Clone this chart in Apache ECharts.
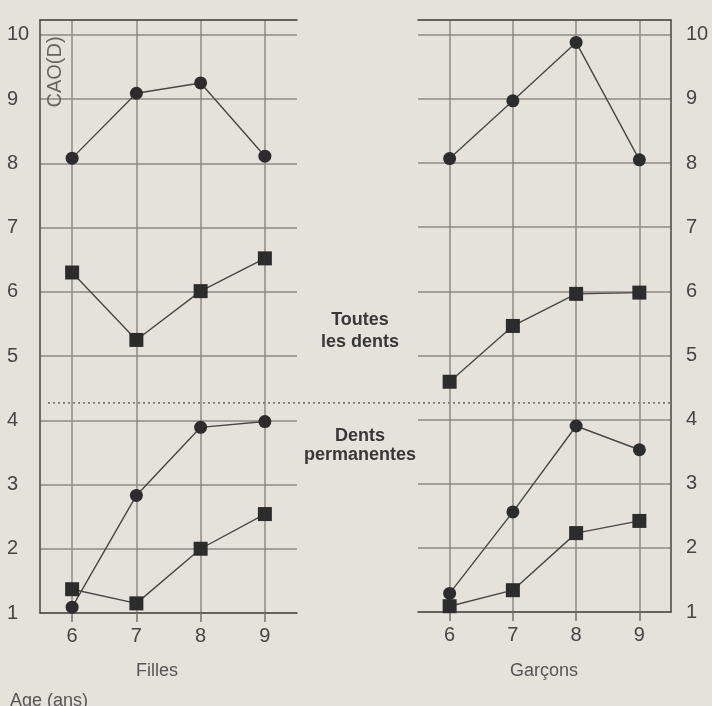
<!DOCTYPE html>
<html>
<head>
<meta charset="utf-8">
<script src="https://cdn.jsdelivr.net/npm/echarts@6/dist/echarts.min.js"></script>
<style>
html,body{margin:0;padding:0;background:#e4e2da;}
#c{width:712px;height:706px;}
</style>
</head>
<body>
<div id="c"></div>
<script>
// ---- data ----
const ages = ['6', '7', '8', '9'];
// Filles
const fillesToutesCAO = [8.08, 9.09, 9.25, 8.11];    // circles, all teeth
const fillesToutesSq = [6.30, 5.25, 6.01, 6.52];     // squares, all teeth
const fillesPermCAO = [1.09, 2.83, 3.89, 3.98];      // circles, permanent teeth
const fillesPermSq = [1.37, 1.15, 2.00, 2.54];       // squares, permanent teeth
// Garçons
const garconsToutesCAO = [8.07, 8.97, 9.88, 8.05];
const garconsToutesSq = [4.59, 5.46, 5.96, 5.98];
const garconsPermCAO = [1.29, 2.56, 3.90, 3.53];
const garconsPermSq = [1.09, 1.34, 2.23, 2.42];
const separatorValue = 4.27;

const ink = '#2c2c2c';
const lineCol = '#474747';
const gridCol = '#8c8a83';
const axisCol = '#504e4a';
const textCol = '#454545';
const font = 'Liberation Sans, Arial, sans-serif';

function xAxisBottom(gi) {
  return {
    type: 'category', gridIndex: gi, data: ages, boundaryGap: true,
    axisLine: { show: true, lineStyle: { color: axisCol, width: 1.6 } },
    axisTick: { show: true, alignWithLabel: true, length: 9, lineStyle: { color: '#74726d', width: 1.5 } },
    axisLabel: { fontSize: 20, color: textCol, margin: 13, fontFamily: font },
    splitLine: { show: true, alignWithLabel: true, lineStyle: { color: gridCol, width: 1.5 } }
  };
}
function xAxisTop(gi) {
  return {
    type: 'category', gridIndex: gi, data: ages, position: 'top', boundaryGap: true,
    axisLine: { show: true, lineStyle: { color: axisCol, width: 1.6 } },
    axisTick: { show: false }, axisLabel: { show: false }, splitLine: { show: false }
  };
}
function yAxis(gi, pos, margin, align) {
  return {
    type: 'value', gridIndex: gi, position: pos, min: 1, max: 10.23, interval: 1,
    axisLine: { show: true, onZero: false, lineStyle: { color: axisCol, width: 1.6 } },
    axisTick: { show: false },
    axisLabel: {
      fontSize: 20, color: textCol, margin: margin, align: align, fontFamily: font,
      formatter: v => (Math.abs(v - Math.round(v)) < 1e-9 ? String(Math.round(v)) : '')
    },
    splitLine: { show: true, lineStyle: { color: gridCol, width: 1.5 } }
  };
}
function ser(gi, data, sym) {
  return {
    type: 'line', xAxisIndex: gi * 2, yAxisIndex: gi, data: data,
    symbol: sym, symbolSize: sym === 'rect' ? 14 : 13,
    itemStyle: { color: ink }, lineStyle: { color: lineCol, width: 1.4 },
    showAllSymbol: true, animation: false, z: 5
  };
}

const chart = echarts.init(document.getElementById('c'));
chart.setOption({
  backgroundColor: '#e4e2da',
  animation: false,
  grid: [
    { left: 40, right: 415, top: 20, bottom: 93 },
    { left: 418, right: 41, top: 20, bottom: 94 }
  ],
  xAxis: [xAxisBottom(0), xAxisTop(0), xAxisBottom(1), xAxisTop(1)],
  yAxis: [yAxis(0, 'left', 33, 'left'), yAxis(1, 'right', 15, 'left')],
  series: [
    ser(0, fillesToutesCAO, 'circle'),
    ser(0, fillesToutesSq, 'rect'),
    ser(0, fillesPermCAO, 'circle'),
    ser(0, fillesPermSq, 'rect'),
    ser(1, garconsToutesCAO, 'circle'),
    ser(1, garconsToutesSq, 'rect'),
    ser(1, garconsPermCAO, 'circle'),
    ser(1, garconsPermSq, 'rect')
  ]
});

const sepY = chart.convertToPixel({ yAxisIndex: 0 }, separatorValue);
const txt = (x, y, s, opts) => Object.assign({
  type: 'text', x: x, y: y,
  style: Object.assign({ text: s, fill: '#555', font: '18px ' + font, align: 'center', verticalAlign: 'middle' }, opts || {})
});
chart.setOption({
  graphic: [
    { type: 'line', shape: { x1: 48, y1: sepY, x2: 670, y2: sepY },
      style: { stroke: '#7d7b75', lineWidth: 1.6, lineDash: [2, 3] }, z: 3 },
    { type: 'text', x: 55, y: 72, rotation: Math.PI / 2,
      style: { text: 'CAO(D)', fill: '#67655f', font: '20px ' + font, align: 'center', verticalAlign: 'middle' } },
    txt(360, 320, 'Toutes', { font: 'bold 18px ' + font, fill: '#383838' }),
    txt(360, 342, 'les dents', { font: 'bold 18px ' + font, fill: '#383838' }),
    txt(360, 436, 'Dents', { font: 'bold 18px ' + font, fill: '#383838' }),
    txt(360, 455, 'permanentes', { font: 'bold 18px ' + font, fill: '#383838' }),
    txt(157, 671, 'Filles'),
    txt(544, 671, 'Garçons'),
    txt(10, 692, 'Age (ans)', { align: 'left', verticalAlign: 'top' })
  ]
});
</script>
</body>
</html>
